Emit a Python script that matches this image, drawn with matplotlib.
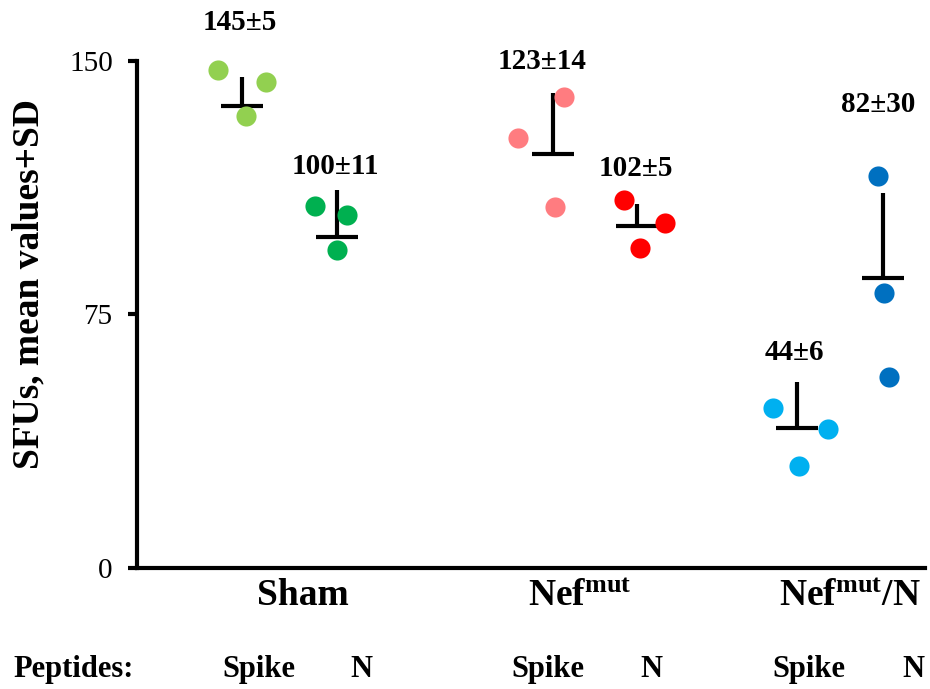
import numpy as np
import matplotlib
matplotlib.use("Agg")
import matplotlib.pyplot as plt
import matplotlib.transforms as mtransforms

plt.rcParams['font.family'] = ['Liberation Serif', 'DejaVu Serif']
plt.rcParams['mathtext.fontset'] = 'custom'
plt.rcParams['mathtext.rm'] = 'Liberation Serif'
plt.rcParams['mathtext.bf'] = 'Liberation Serif:bold'

# series: Sham Spike, Sham N, Nef Spike, Nef N, Nef/N Spike, Nef/N N
series_pos = [1.07, 2.03, 4.22, 5.08, 6.70, 7.57]
series_colors = ['#92D050', '#00B050', '#FF7C80', '#FF0000', '#00B0F0', '#0070C0']
point_values = [
    [147.2, 143.7, 133.6],
    [107.0, 104.3, 94.0],
    [139.2, 127.1, 106.7],
    [108.8, 102.0, 94.6],
    [47.3, 41.1, 30.2],
    [115.9, 81.3, 56.5],
]
point_jitter = [
    [-0.25, 0.24, 0.04],
    [-0.22, 0.10, 0.00],
    [0.12, -0.35, 0.02],
    [-0.14, 0.28, 0.03],
    [-0.24, 0.32, 0.02],
    [-0.05, 0.01, 0.06],
]
means = [136.6, 97.8, 122.4, 101.1, 41.4, 85.7]
sd_up = [8.6, 13.9, 18.0, 6.5, 13.6, 25.1]

stat_labels = ['145±5', '100±11', '123±14', '102±5', '44±6', '82±30']
stat_label_x = [1.04, 2.01, 4.11, 5.06, 6.67, 7.52]
stat_label_y = [161.1, 118.8, 149.6, 118.2, 63.8, 136.9]

group_names = ['Sham', r'$\mathbf{Nef^{mut}}$', r'$\mathbf{Nef^{mut}/N}$']
group_pos = [1.685, 4.5, 7.24]

peptide_names = ['Spike', 'N', 'Spike', 'N', 'Spike', 'N']
peptide_x = [1.24, 2.28, 4.17, 5.22, 6.82, 7.88]

yticks = [0, 75, 150]

fig = plt.figure(figsize=(9.3, 6.89), dpi=100)
ax = fig.add_axes([137 / 930, 1 - 568 / 689, 788 / 930, 568 / 689])

for i in range(len(series_pos)):
    xs = series_pos[i] + np.array(point_jitter[i])
    ax.scatter(xs, point_values[i], s=210, color=series_colors[i], linewidths=0, zorder=3)

# mean bar + upper SD
ax.errorbar(series_pos, means, yerr=[np.zeros(len(means)), sd_up], fmt='_', color='black',
            ms=30, mew=3, elinewidth=3, capsize=0, zorder=2)

for x, y, t in zip(stat_label_x, stat_label_y, stat_labels):
    ax.text(x, y, t, ha='center', va='center', fontsize=21, fontweight='bold')

ax.set_xlim(0, 8)
ax.set_ylim(0, 568 / 3.383)
ax.spines['top'].set_visible(False)
ax.spines['right'].set_visible(False)
ax.spines['left'].set_linewidth(3)
ax.spines['bottom'].set_linewidth(3)
ax.spines['left'].set_bounds(0, 150)

ax.set_yticks(yticks)
ax.tick_params(axis='y', direction='out', length=6.5, width=3, labelsize=21, pad=11)
ax.set_xticks(group_pos)
ax.set_xticklabels(group_names, fontsize=27, fontweight='bold')
ax.tick_params(axis='x', length=0, pad=7)

ax.set_ylabel('SFUs, mean values+SD', fontsize=27, fontweight='bold', labelpad=16)

fig.text(13 / 930, 1 - 677 / 689, 'Peptides:', fontsize=22, fontweight='bold', va='baseline')
trans = mtransforms.blended_transform_factory(ax.transData, fig.transFigure)
for x, t in zip(peptide_x, peptide_names):
    ax.text(x, 1 - 677 / 689, t, transform=trans, ha='center', va='baseline',
            fontsize=22, fontweight='bold', clip_on=False)

fig.savefig('out.png', dpi=100)
